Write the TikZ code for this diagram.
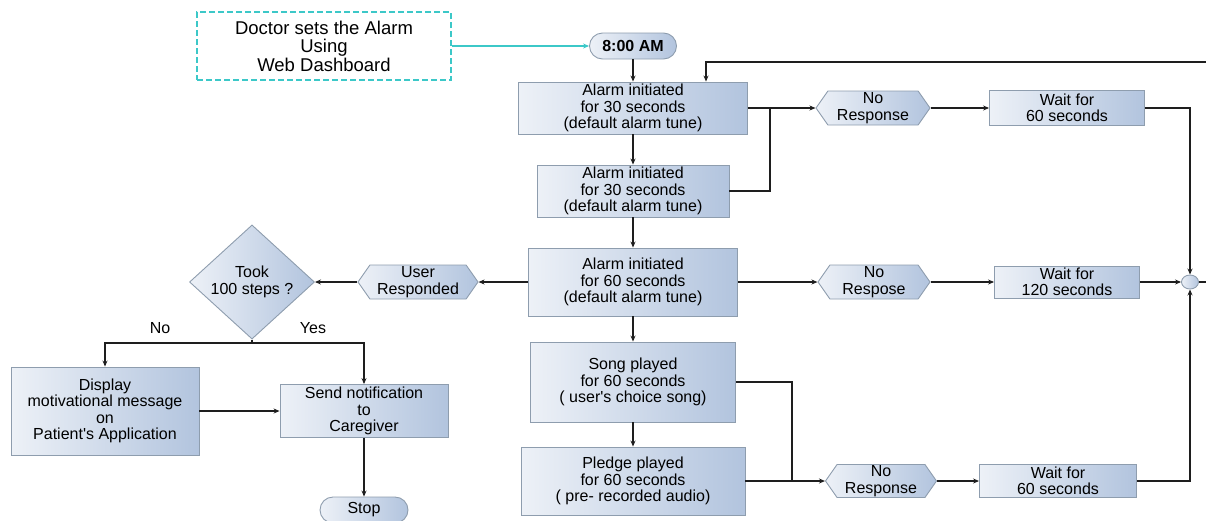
\documentclass[tikz,border=0pt]{standalone}
\usepackage{fontspec}
\setmainfont{Liberation Sans}
\usetikzlibrary{shapes.geometric,shapes.symbols,shapes.misc,arrows.meta}
\definecolor{boxL}{HTML}{EDF1F7}
\definecolor{boxR}{HTML}{B2C4DE}
\definecolor{boxD}{HTML}{8E9DAE}
\definecolor{teal}{HTML}{3CC8C8}
\definecolor{lnc}{HTML}{1E1E1E}
\tikzset{
  base/.style={draw=boxD, line width=0.9pt, left color=boxL, right color=boxR, inner sep=0pt, align=center, text=black, font=\fontsize{16}{16.5}\selectfont},
  pbox/.style={base, rectangle},
  hexa/.style={base, signal, signal to=west and east, signal pointer angle=110},
  term/.style={base, rounded rectangle},
  dia/.style={base, diamond},
  arr/.style={draw=lnc, line width=1.5pt, -{Stealth[length=6pt,width=5pt]}},
  ln/.style={draw=lnc, line width=1.5pt},
}
\begin{document}
\begin{tikzpicture}[x=1pt,y=-1pt]
\useasboundingbox (0,0) rectangle (1206,520);
% nodes
\node[draw=teal, dashed, dash pattern=on 6pt off 3pt, line width=1.2pt, minimum width=254, minimum height=68, inner sep=0, align=center, font=\fontsize{18.5}{18.5}\selectfont] (doc) at (324,46) {Doctor sets the Alarm\\Using\\Web Dashboard};
\node[term, minimum width=87, minimum height=26, font=\fontsize{16}{16}\selectfont\bfseries] (am) at (633,46) {8:00 AM};
\node[pbox, minimum width=229, minimum height=52] (a1) at (633,108) {Alarm initiated\\for 30 seconds\\(default alarm tune)};
\node[pbox, minimum width=192, minimum height=52] (a2) at (633,191) {Alarm initiated\\for 30 seconds\\(default alarm tune)};
\node[pbox, minimum width=209, minimum height=68] (a3) at (633,282) {Alarm initiated\\for 60 seconds\\(default alarm tune)};
\node[pbox, minimum width=205, minimum height=80] (song) at (633,382) {Song played\\for 60 seconds\\( user\textquotesingle s choice song)};
\node[pbox, minimum width=224, minimum height=68] (pledge) at (633,481) {Pledge played\\for 60 seconds\\( pre- recorded audio)};
\node[hexa, minimum width=114, minimum height=34] (h1) at (873,108) {No\\Response};
\node[pbox, minimum width=155, minimum height=35] (w1) at (1067,108) {Wait for\\60 seconds};
\node[hexa, minimum width=112, minimum height=34] (h2) at (874,282) {No\\Respose};
\node[pbox, minimum width=145, minimum height=32] (w2) at (1067,282) {Wait for\\120 seconds};
\node[hexa, minimum width=111, minimum height=33] (h3) at (881,481) {No\\Response};
\node[pbox, minimum width=157, minimum height=33] (w3) at (1058,481) {Wait for\\60 seconds};
\node[base, ellipse, minimum width=17, minimum height=14] (jc) at (1190,282) {};
\node[hexa, minimum width=120, minimum height=34] (ur) at (418,282) {User\\Responded};
\node[dia, minimum width=125, minimum height=77] (dm) at (252,282) {Took\\100 steps ?};
\node[pbox, minimum width=188, minimum height=88] (disp) at (105,411) {Display\\motivational message\\on\\Patient\textquotesingle s Application};
\node[pbox, minimum width=168, minimum height=53] (send) at (364,411) {Send notification\\to\\Caregiver};
\node[term, minimum width=88, minimum height=26] (stop) at (364,510) {Stop};
\node[font=\fontsize{16}{16}\selectfont] (no) at (160,328) {No};
\node[font=\fontsize{16}{16}\selectfont] (yes) at (313,328) {Yes};
% coordinates
\coordinate (loopR) at (1206,62);
\coordinate (lt) at (706,62);
\coordinate (j1) at (770,108);
\coordinate (j3) at (792,481);
\coordinate (split) at (252,343);
\coordinate (outR) at (1206,282);
% connectors
\draw[draw=teal, line width=1.3pt, -{Stealth[length=6pt,width=5pt]}] (doc.east) -- (am.west);
\draw[arr] (am.south) -- (a1.north);
\draw[arr] (loopR) -- (lt) -- (lt |- a1.north);
\draw[arr] (a1.east) -- (h1.west);
\draw[ln] (a2.east) -| (j1);
\draw[arr] (h1.east) -- (w1.west);
\draw[arr] (w1.east) -| (jc.north);
\draw[arr] (a1.south) -- (a2.north);
\draw[arr] (a2.south) -- (a3.north);
\draw[arr] (a3.south) -- (song.north);
\draw[arr] (song.south) -- (pledge.north);
\draw[arr] (a3.west) -- (ur.east);
\draw[arr] (ur.west) -- (dm.east);
\draw[ln] (dm.south) -- (split);
\draw[arr] (split) -| (disp.north);
\draw[arr] (split) -| (send.north);
\draw[arr] (disp.east) -- (send.west);
\draw[arr] (send.south) -- (stop.north);
\draw[arr] (a3.east) -- (h2.west);
\draw[arr] (h2.east) -- (w2.west);
\draw[arr] (w2.east) -- (jc.west);
\draw[ln] (jc.east) -- (outR);
\draw[ln] (song.east) -| (j3);
\draw[arr] (pledge.east) -- (h3.west);
\draw[arr] (h3.east) -- (w3.west);
\draw[arr] (w3.east) -| (jc.south);
\end{tikzpicture}
\end{document}
